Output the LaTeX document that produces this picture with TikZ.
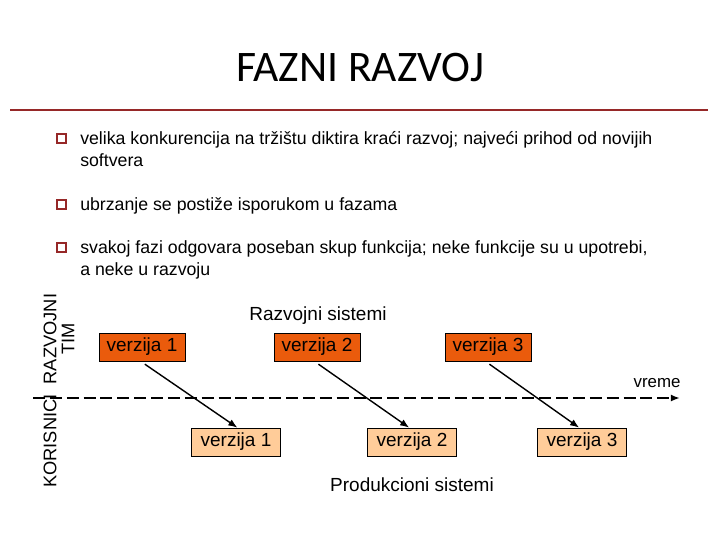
\documentclass[tikz,border=0pt]{standalone}
\usepackage{fontspec}
\setmainfont{Liberation Sans}
\newfontfamily\titlefont{Carlito}
\usetikzlibrary{arrows.meta}
\definecolor{slidered}{RGB}{150,40,40}
\definecolor{devorange}{RGB}{234,91,12}
\definecolor{prodorange}{RGB}{255,204,153}

\begin{document}
\begin{tikzpicture}[x=0.025cm,y=-0.025cm,
 blt/.style={draw=slidered,line width=1pt,minimum size=6.6pt,inner sep=0pt},
 txt/.style={anchor=north west,inner sep=0pt,align=left,
 font=\fontsize{12.6}{15.6}\selectfont},
 dv/.style={draw=black,line width=0.5pt,fill=devorange,minimum width=61.2pt,
 minimum height=19.9pt,inner sep=0pt,font=\fontsize{13.5}{16}\selectfont},
 pr/.style={dv,fill=prodorange,minimum width=63pt},
 lane/.style={rotate=90,align=center,font=\fontsize{13}{12.8}\selectfont},
 a/.style={-{Latex[length=6.5pt,width=5pt]},line width=1pt}]
\useasboundingbox (0,0) rectangle (720,540);
% naslov
\node[font=\titlefont\fontsize{31}{36}\selectfont] (title) at (360,68) {FAZNI RAZVOJ};
\draw[slidered,line width=0.9pt] (10,110) -- (708,110);
% tacke
\node[blt] (b1) at (61.5,138.5) {};
\node[blt] (b2) at (61.5,204.5) {};
\node[blt] (b3) at (61.5,247.5) {};
\node[txt] (t1) at (80,131) {velika konkurencija na tržištu diktira kraći razvoj; najveći prihod od novijih\\softvera};
\node[txt] (t2) at (80,197) {ubrzanje se postiže isporukom u fazama};
\node[txt] (t3) at (80,240) {svakoj fazi odgovara poseban skup funkcija; neke funkcije su u upotrebi,\\a neke u razvoju};
% trake
\node[lane] (tim) at (59,339) {RAZVOJNI\\TIM};
\node[lane] (kor) at (50,441) {KORISNICI};
\coordinate (ts) at (33,398);
\coordinate (te) at (680,398);
\draw[a,line width=1.5pt,dash pattern=on 8.5pt off 3.5pt] (ts) -- (te);
\node[font=\fontsize{12}{14}\selectfont] (vr) at (657,383) {vreme};
% verzije
\node[font=\fontsize{13.5}{16}\selectfont] (rs) at (318,316) {Razvojni sistemi};
\node[dv] (d1) at (142,347) {verzija 1};
\node[dv] (d2) at (317,347) {verzija 2};
\node[dv] (d3) at (488,347) {verzija 3};
\node[pr] (p1) at (236,442) {verzija 1};
\node[pr] (p2) at (412,442) {verzija 2};
\node[pr] (p3) at (582,442) {verzija 3};
\node[font=\fontsize{13.5}{16}\selectfont] (ps) at (412,485) {Produkcioni sistemi};
\draw[a] ([xshift=2pt,yshift=-2pt]d1.south) -- ([xshift=1pt]p1.north);
\draw[a] ([xshift=1pt,yshift=-2pt]d2.south) -- ([xshift=-2pt]p2.north);
\draw[a] ([xshift=1pt,yshift=-2pt]d3.south) -- ([xshift=-2pt]p3.north);
\end{tikzpicture}
\end{document}
